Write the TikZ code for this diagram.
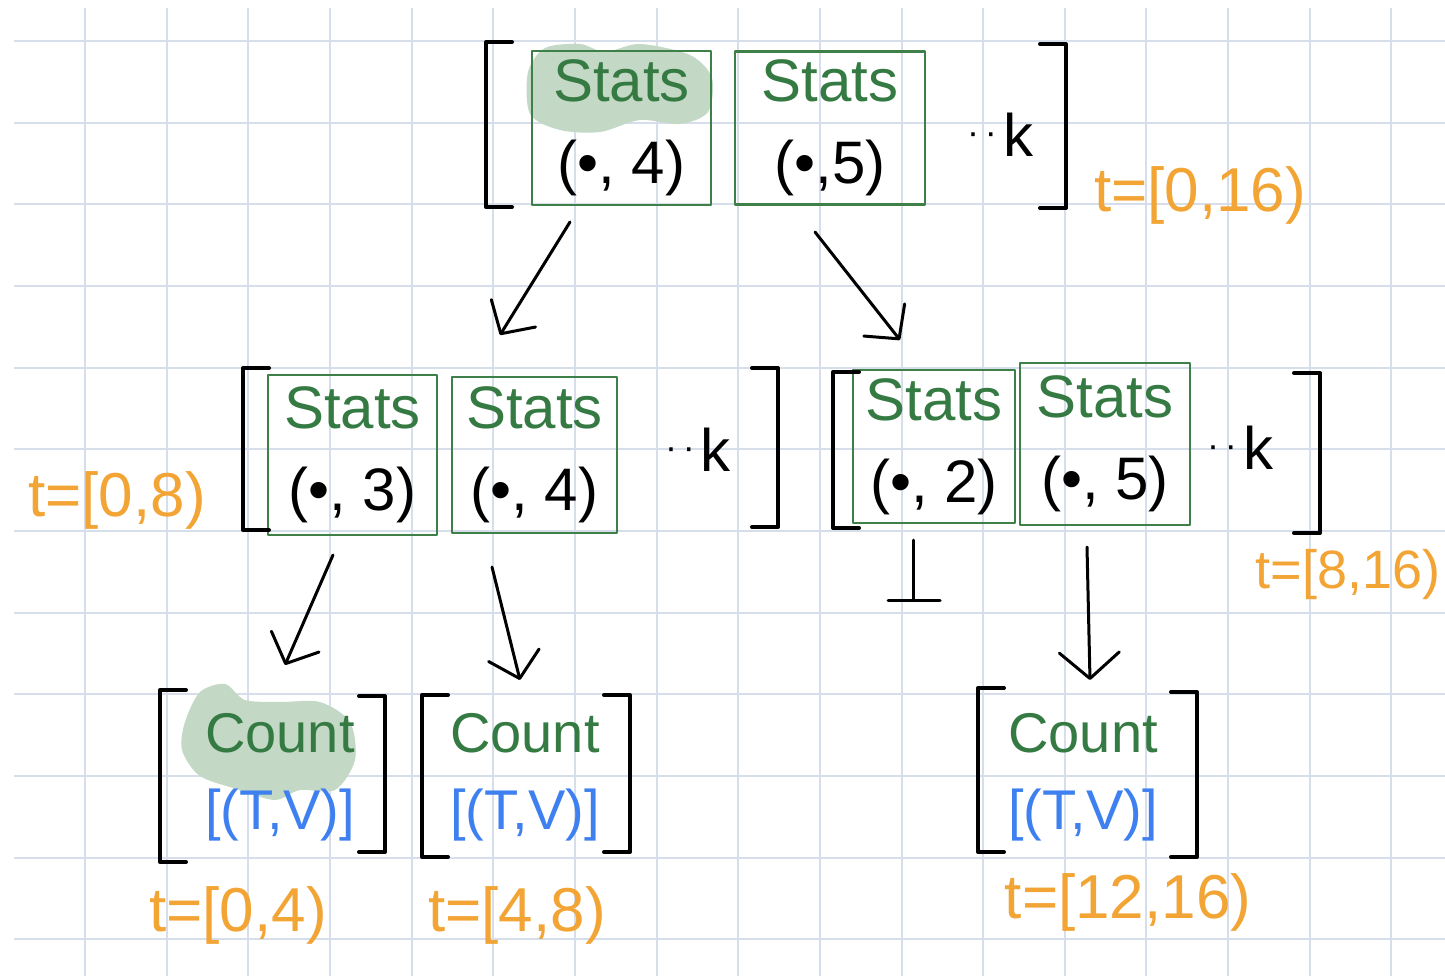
\documentclass[tikz,border=0pt]{standalone}
\usepackage{fontspec}
\setmainfont{Liberation Sans}
\usetikzlibrary{arrows.meta}
\definecolor{gridc}{RGB}{214,222,236}
\definecolor{gline}{RGB}{62,128,72}
\definecolor{gtext}{RGB}{52,122,66}
\definecolor{hl}{RGB}{196,216,198}
\definecolor{orng}{RGB}{242,164,52}
\definecolor{blu}{RGB}{62,128,240}
\tikzset{
 hand/.style={line cap=round,line join=round},
 gbox/.style={draw=gline,line width=1.4pt,hand,align=center,inner sep=0pt,font=\fontsize{30}{41}\selectfont},
 brk/.style={line width=2pt,hand,black},
 lab/.style={text=orng,font=\fontsize{31}{31}\selectfont,inner sep=0pt},
 cnt/.style={align=center,inner sep=0pt,font=\fontsize{28}{38.5}\selectfont},
 dk/.style={font=\fontsize{30}{30}\selectfont,inner sep=0pt},
 arr/.style={line width=1.5pt,hand,-{Straight Barb[length=12pt,width=26pt,round]}},
}
\newcommand{\LBk}[3]{\draw[brk] (#1+26,#2) -- (#1,#2) -- (#1,#3) -- (#1+26,#3);}
\newcommand{\RBk}[3]{\draw[brk] (#1-26,#2) -- (#1,#2) -- (#1,#3) -- (#1-26,#3);}
\newcommand{\Dots}{\raisebox{0.2em}{\fontsize{18}{18}\selectfont\textperiodcentered\,\textperiodcentered\,}}
\begin{document}
\begin{tikzpicture}[x=0.5pt,y=-0.5pt]
\useasboundingbox (0,0) rectangle (1445,976);
\fill[white] (0,0) rectangle (1445,976);
\foreach \k in {0,...,16} \draw[gridc,line width=1pt] ({85+81.65*\k},8) -- ({85+81.65*\k},976);
\foreach \k in {0,...,11} \draw[gridc,line width=1pt] (14,{41+81.65*\k}) -- (1445,{41+81.65*\k});
% highlight blobs
\fill[hl] plot[smooth cycle] coordinates {(528,72) (545,48) (580,44) (605,52) (640,44) (690,55) (712,78) (708,112) (680,124) (640,120) (600,132) (560,130) (530,114)};
\fill[hl] plot[smooth cycle] coordinates {(185,722) (200,692) (225,684) (245,700) (280,702) (320,702) (350,722) (355,760) (335,790) (300,790) (275,800) (240,790) (200,776) (182,750)};
% top row
\node[gbox,minimum width=89.5pt,minimum height=77pt] (b1) at (621.5,128) {{\color{gtext}Stats}\\(\textbullet, 4)};
\node[gbox,minimum width=95pt,minimum height=76.5pt] (b2) at (830,128) {{\color{gtext}Stats}\\(\textbullet,5)};
\node[dk] (k1) at (1000,135) {\Dots k};
\LBk{486}{42}{207}
\RBk{1066}{44}{208}
\node[lab] (t0) at (1200,195) {t=[0,16)};
% middle left
\node[gbox,minimum width=84.5pt,minimum height=80pt] (b3) at (352.5,455) {{\color{gtext}Stats}\\(\textbullet, 3)};
\node[gbox,minimum width=82.5pt,minimum height=78pt] (b4) at (534.5,455) {{\color{gtext}Stats}\\(\textbullet, 4)};
\node[dk] (k2) at (698,450) {\Dots k};
\LBk{243}{368}{530}
\RBk{778}{368}{527}
\node[lab] (tl) at (117,500) {t=[0,8)};
% middle right
\node[gbox,minimum width=81pt,minimum height=76.5pt] (b5) at (934,446.5) {{\color{gtext}Stats}\\(\textbullet, 2)};
\node[gbox,minimum width=85pt,minimum height=81pt] (b6) at (1105,444) {{\color{gtext}Stats}\\(\textbullet, 5)};
\node[dk] (k3) at (1240,448) {\Dots k};
\LBk{833}{372}{528}
\RBk{1320}{373}{533}
\node[lab,font=\fontsize{27}{27}\selectfont] (tr) at (1348,575) {t=[8,16)};
% bottom row
\node[cnt] (c1) at (280,777) {{\color{gtext}Count}\\{\color{blu}[(T,V)]}};
\LBk{160}{690}{862}
\RBk{385}{696}{852}
\node[lab] (tb1) at (238,915) {t=[0,4)};
\node[cnt] (c2) at (525,777) {{\color{gtext}Count}\\{\color{blu}[(T,V)]}};
\LBk{422}{695}{857}
\RBk{630}{695}{852}
\node[lab] (tb2) at (517,915) {t=[4,8)};
\node[cnt] (c3) at (1083,777) {{\color{gtext}Count}\\{\color{blu}[(T,V)]}};
\LBk{978}{688}{852}
\RBk{1197}{692}{857}
\node[lab] (tb3) at (1128,902) {t=[12,16)};
% connectors
\coordinate (a1s) at (570,222); \coordinate (a1e) at (500,335);
\coordinate (a2s) at (815,232); \coordinate (a2e) at (900,340);
\coordinate (a3s) at (333,555); \coordinate (a3e) at (285,665);
\coordinate (a4s) at (492,567); \coordinate (a4e) at (520,680);
\coordinate (a5s) at (1087,547); \coordinate (a5e) at (1090,680);
\coordinate (p1s) at (913,540); \coordinate (p1e) at (913,600);
\draw[arr] (a1s) -- (a1e);
\draw[arr] (a2s) -- (a2e);
\draw[arr] (a3s) -- (a3e);
\draw[arr] (a4s) -- (a4e);
\draw[arr,-{Straight Barb[length=13pt,width=30pt,round]}] (a5s) -- (a5e);
\draw[line width=1.5pt,hand] (p1s) -- (p1e);
\draw[line width=1.5pt,hand] ([xshift=-12.5pt]p1e) -- ([xshift=13.5pt]p1e);
\end{tikzpicture}
\end{document}
